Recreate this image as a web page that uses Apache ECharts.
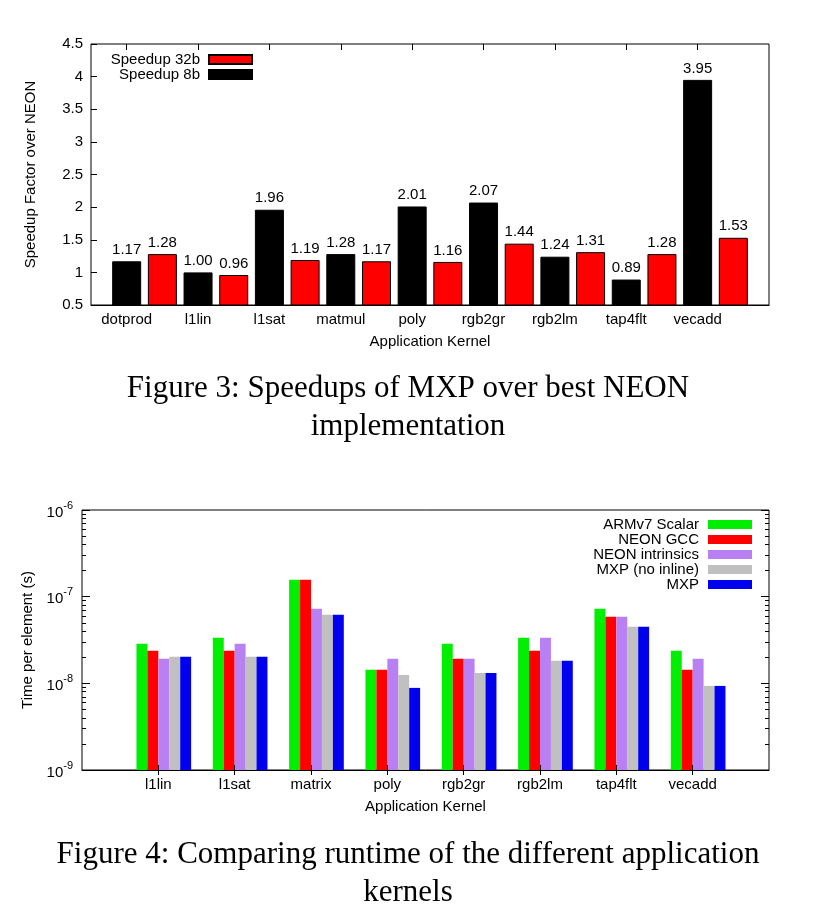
<!DOCTYPE html>
<html><head><meta charset="utf-8">
<script src="https://cdn.jsdelivr.net/npm/echarts@6/dist/echarts.min.js"></script>
<style>html,body{margin:0;padding:0;background:#fff}#c{width:834px;height:918px}</style>
</head><body><div id="c"></div>
<script>
// ---- Figure 3 data ----
const kernels1 = ['dotprod','l1lin','l1sat','matmul','poly','rgb2gr','rgb2lm','tap4flt','vecadd'];
const speedup8b = [1.17,1.00,1.96,1.28,2.01,2.07,1.24,0.89,3.95];
const speedup32b = [1.28,0.96,1.19,1.17,1.16,1.44,1.31,1.28,1.53];

// ---- Figure 4 data (seconds per element) ----
const kernels2 = ['l1lin','l1sat','matrix','poly','rgb2gr','rgb2lm','tap4flt','vecadd'];
const armScalar   = [2.86e-8,3.35e-8,1.57e-7,1.43e-8,2.86e-8,3.35e-8,7.25e-8,2.37e-8];
const neonGcc     = [2.37e-8,2.37e-8,1.57e-7,1.43e-8,1.92e-8,2.37e-8,5.86e-8,1.43e-8];
const neonIntr    = [1.92e-8,2.86e-8,7.25e-8,1.92e-8,1.92e-8,3.35e-8,5.86e-8,1.92e-8];
const mxpNoInline = [2.02e-8,2.02e-8,6.18e-8,1.25e-8,1.32e-8,1.82e-8,4.49e-8,9.34e-9];
const mxp         = [2.02e-8,2.02e-8,6.18e-8,8.86e-9,1.32e-8,1.82e-8,4.49e-8,9.34e-9];
const decadeExponents = [-9,-8,-7,-6];

const FONT = 'Liberation Sans';
const SERIF = 'Liberation Serif';

// Figure 3: slots from position -1 to 18; black bars at even positions, red at odd
const cats1 = [];
for (let j = 0; j < 20; j++) cats1.push('_' + j);
kernels1.forEach((k, i) => { cats1[2*i+1] = k; });
const blackData = cats1.map(() => '-');
const redData = cats1.map(() => '-');
speedup8b.forEach((v, i) => { blackData[2*i+1] = v; });
speedup32b.forEach((v, i) => { redData[2*i+2] = v; });

// Figure 4: log10 scale mapped onto a linear axis whose 0 is the lowest decade
const logBottom = decadeExponents[0];
const toLog = v => Math.log10(v) - logBottom;
const cats2 = ['_a', ...kernels2, '_b'];
const pad = arr => ['-', ...arr, '-'];
const minorTicks = [];
for (let e = decadeExponents[0]; e < decadeExponents[decadeExponents.length - 1]; e++)
  for (let m = 2; m <= 9; m++) minorTicks.push(Math.log10(m) + e - logBottom);

const isReal = v => !String(v).startsWith('_');
const txt = {fontFamily: FONT, fontSize: 15, color: '#000'};

const chart = echarts.init(document.getElementById('c'), null, {renderer: 'canvas'});
const barLabel = {show: true, position: 'top', distance: 4, fontFamily: FONT, fontSize: 15, color: '#000',
  formatter: p => Number(p.value).toFixed(2)};

const logAxisBase = {type: 'value', min: 0, max: decadeExponents.length - 1, interval: 1, gridIndex: 1,
  splitLine: {show: false}, axisLine: {show: false}};

const series2Defs = [
  ['ARMv7 Scalar', armScalar, '#00ee00'],
  ['NEON GCC', neonGcc, '#ff0000'],
  ['NEON intrinsics', neonIntr, '#b880f2'],
  ['MXP (no inline)', mxpNoInline, '#c0c0c0'],
  ['MXP', mxp, '#0000ee']
];

const option = {
  animation: false,
  backgroundColor: '#fff',
  title: [
    {text: 'Figure 3: Speedups of MXP over best NEON\nimplementation', left: 408, top: 370, textAlign: 'center', padding: 0,
     textStyle: {fontFamily: SERIF, fontSize: 31, fontWeight: 'normal', lineHeight: 38, color: '#000'}},
    {text: 'Figure 4: Comparing runtime of the different application\nkernels', left: 408, top: 836, textAlign: 'center', padding: 0,
     textStyle: {fontFamily: SERIF, fontSize: 31, fontWeight: 'normal', lineHeight: 38, color: '#000'}}
  ],
  legend: [
    {data: ['Speedup 32b', 'Speedup 8b'], orient: 'vertical', align: 'right', right: 581, top: 52, padding: 0,
     itemGap: 0, itemWidth: 43, itemHeight: 9, icon: 'rect', selectedMode: false,
     textStyle: {fontFamily: FONT, fontSize: 15, color: '#000', lineHeight: 15, padding: [0, 4, 0, 0]}},
    {data: series2Defs.map(d => d[0]), orient: 'vertical', align: 'right', right: 82, top: 517, padding: 0,
     itemGap: 0, itemWidth: 44, itemHeight: 9, icon: 'rect', selectedMode: false,
     textStyle: {fontFamily: FONT, fontSize: 15, color: '#000', lineHeight: 15, padding: [0, 4, 0, 0]}}
  ],
  grid: [
    {left: 91, top: 44, width: 678, height: 261, show: true, borderColor: '#000', borderWidth: 1, backgroundColor: 'transparent'},
    {left: 82, top: 510, width: 687, height: 260, show: true, borderColor: '#000', borderWidth: 1, backgroundColor: 'transparent'}
  ],
  xAxis: [
    {type: 'category', gridIndex: 0, data: cats1, boundaryGap: false, position: 'bottom', z: 5,
     axisLine: {show: true, lineStyle: {color: '#000', width: 1}},
     axisTick: {show: false},
     axisLabel: {...txt, margin: 7, interval: (i, v) => isReal(v), formatter: v => isReal(v) ? v : ''},
     name: 'Application Kernel', nameLocation: 'middle', nameGap: 29, nameTextStyle: txt},
    {type: 'category', gridIndex: 0, data: cats1, boundaryGap: false, position: 'top',
     axisLine: {show: false},
     axisTick: {show: true, inside: true, length: 6, interval: (i, v) => isReal(v), lineStyle: {color: '#000'}},
     axisLabel: {show: false}},
    {type: 'category', gridIndex: 1, data: cats2, boundaryGap: false, position: 'bottom', z: 5,
     axisLine: {show: true, lineStyle: {color: '#000', width: 1}},
     axisTick: {show: true, inside: true, length: 5, interval: (i, v) => isReal(v), lineStyle: {color: '#000'}},
     axisLabel: {...txt, margin: 7, interval: (i, v) => isReal(v), formatter: v => isReal(v) ? v : ''},
     name: 'Application Kernel', nameLocation: 'middle', nameGap: 29, nameTextStyle: txt},
    {type: 'category', gridIndex: 1, data: cats2, boundaryGap: false, position: 'top',
     axisLine: {show: false},
     axisTick: {show: true, inside: true, length: 5, interval: (i, v) => isReal(v), lineStyle: {color: '#000'}},
     axisLabel: {show: false}}
  ],
  yAxis: [
    {type: 'value', gridIndex: 0, min: 0.5, max: 4.5, interval: 0.5, position: 'left',
     splitLine: {show: false}, axisLine: {show: false},
     axisTick: {show: true, inside: true, length: 6, lineStyle: {color: '#000'}},
     axisLabel: {...txt, margin: 8},
     name: 'Speedup Factor over NEON', nameLocation: 'middle', nameGap: 53, nameTextStyle: txt},
    {...logAxisBase, position: 'left',
     axisTick: {show: true, inside: true, length: 8, lineStyle: {color: '#000'}},
     axisLabel: {show: true, margin: 9,
       formatter: v => '{b|10}{s|' + (Math.round(v) + logBottom) + '}',
       rich: {b: {fontFamily: FONT, fontSize: 15, color: '#000', lineHeight: 20, verticalAlign: 'bottom'},
              s: {fontFamily: FONT, fontSize: 11, color: '#000', lineHeight: 20, verticalAlign: 'top'}}},
     name: 'Time per element (s)', nameLocation: 'middle', nameGap: 44, nameTextStyle: txt},
    {...logAxisBase, position: 'left',
     axisTick: {show: true, inside: true, length: 4, customValues: minorTicks, lineStyle: {color: '#000'}},
     axisLabel: {show: false}},
    {...logAxisBase, position: 'right',
     axisTick: {show: true, inside: true, length: 8, lineStyle: {color: '#000'}},
     axisLabel: {show: false}},
    {...logAxisBase, position: 'right',
     axisTick: {show: true, inside: true, length: 4, customValues: minorTicks, lineStyle: {color: '#000'}},
     axisLabel: {show: false}}
  ],
  series: [
    {name: 'Speedup 8b', type: 'bar', xAxisIndex: 0, yAxisIndex: 0, data: blackData, barWidth: 29, barGap: '-100%',
     itemStyle: {color: '#000', borderColor: '#000', borderWidth: 1}, label: barLabel},
    {name: 'Speedup 32b', type: 'bar', xAxisIndex: 0, yAxisIndex: 0, data: redData, barWidth: 29, barGap: '-100%',
     itemStyle: {color: '#ff0000', borderColor: '#000', borderWidth: 1}, label: barLabel},
    {name: '_pad', type: 'bar', xAxisIndex: 2, yAxisIndex: 1, data: pad(kernels2.map(() => '-')), barWidth: 10.93, barGap: 0},
    ...series2Defs.map(d => ({
      name: d[0], type: 'bar', xAxisIndex: 2, yAxisIndex: 1, data: pad(d[1].map(toLog)), barWidth: 10.93, barGap: 0,
      itemStyle: {color: d[2]}
    }))
  ]
};
chart.setOption(option);
</script></body></html>
